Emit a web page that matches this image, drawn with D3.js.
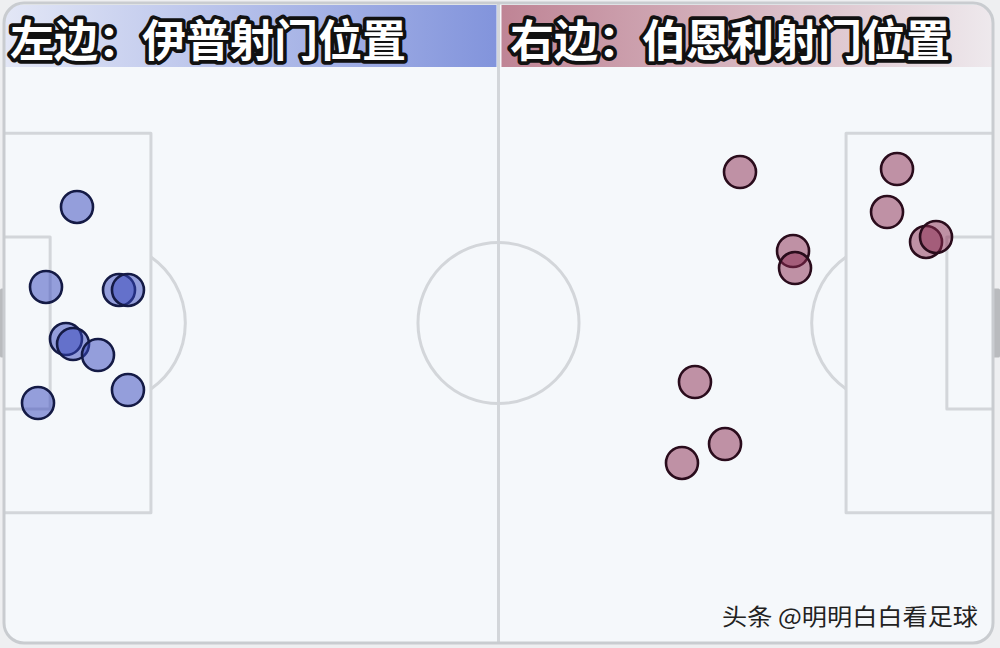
<!DOCTYPE html>
<html>
<head>
<meta charset="utf-8">
<script src="https://cdn.jsdelivr.net/npm/d3@7/dist/d3.min.js"></script>
<style>
  html, body { margin: 0; padding: 0; background: #eeeff1; }
  svg { display: block; }
</style>
</head>
<body>
<svg id="chart" width="1000" height="648"></svg>
<script>
// ---- Data (pitch coordinates in metres: x 0–105, y 0–68) ----
const titles = ["左边：伊普射门位置", "右边：伯恩利射门位置"];
const watermark = "头条 @明明白白看足球";

const ipswichX = [7.75, 4.46, 12.21, 13.16, 6.58, 7.33, 9.98, 13.16, 3.61];
const ipswichY = [21.67, 30.17, 30.49, 30.49, 35.70, 36.23, 37.40, 41.12, 42.50];

const burnleyX = [78.14, 94.81, 93.75, 83.77, 83.98, 97.89, 98.95, 73.36, 76.55, 71.98];
const burnleyY = [17.96, 17.64, 22.21, 26.35, 28.16, 25.39, 24.86, 40.27, 46.86, 48.87];

// pitch markings (metres)
const pitchLength = 105, pitchWidth = 68;
const boxDepth = 15.6, boxWidth = 40.3;
const sixDepth = 4.9, sixWidth = 18.3;
const circleR = 8.55, spotDist = 10.7, goalWidth = 7.32;

// ---- Scales ----
const svg = d3.select("#chart");
const x = d3.scaleLinear().domain([0, pitchLength]).range([4, 993]);
const y = d3.scaleLinear().domain([0, pitchWidth]).range([3, 643]);
const rPx = x(circleR) - x(0);
const cy = y(pitchWidth / 2);

const defs = svg.append("defs");
defs.append("clipPath").attr("id", "frameClip")
  .append("rect").attr("x", x(0)).attr("y", y(0))
  .attr("width", x(pitchLength) - x(0)).attr("height", y(pitchWidth) - y(0))
  .attr("rx", 20).attr("ry", 20);

const gL = defs.append("linearGradient").attr("id", "gradL");
gL.append("stop").attr("offset", "0%").attr("stop-color", "#e3e7f6");
gL.append("stop").attr("offset", "100%").attr("stop-color", "#8294dc");
const gR = defs.append("linearGradient").attr("id", "gradR");
gR.append("stop").attr("offset", "0%").attr("stop-color", "#bf8495");
gR.append("stop").attr("offset", "100%").attr("stop-color", "#eee9ed");

// goal markers
const lineCol = "#d3d6da";
svg.append("rect").attr("x", 0).attr("y", y(pitchWidth / 2 - goalWidth / 2))
  .attr("width", x(0) + 1).attr("height", y(goalWidth) - y(0)).attr("fill", "#b9bbbe").attr("rx", 1.5);
svg.append("rect").attr("x", x(pitchLength) - 1).attr("y", y(pitchWidth / 2 - goalWidth / 2))
  .attr("width", 1000 - x(pitchLength) + 1).attr("height", y(goalWidth) - y(0)).attr("fill", "#b9bbbe").attr("rx", 1.5);

// pitch background
svg.append("rect").attr("x", x(0)).attr("y", y(0))
  .attr("width", x(pitchLength) - x(0)).attr("height", y(pitchWidth) - y(0))
  .attr("rx", 20).attr("fill", "#f5f8fb");

const pitch = svg.append("g").attr("clip-path", "url(#frameClip)")
  .attr("fill", "none").attr("stroke", lineCol).attr("stroke-width", 3)
  .attr("stroke-linejoin", "round");

// halfway line & centre circle
pitch.append("line").attr("x1", x(pitchLength / 2)).attr("x2", x(pitchLength / 2))
  .attr("y1", y(0)).attr("y2", y(pitchWidth));
pitch.append("circle").attr("cx", x(pitchLength / 2)).attr("cy", cy).attr("r", rPx);

// boxes
function boxPath(x0, x1, w) {
  const yt = y(pitchWidth / 2 - w / 2), yb = y(pitchWidth / 2 + w / 2);
  return `M${x(x0)},${yt} L${x(x1)},${yt} L${x(x1)},${yb} L${x(x0)},${yb}`;
}
pitch.append("path").attr("d", boxPath(0, boxDepth, boxWidth));
pitch.append("path").attr("d", boxPath(0, sixDepth, sixWidth));
pitch.append("path").attr("d", boxPath(pitchLength, pitchLength - boxDepth, boxWidth));
pitch.append("path").attr("d", boxPath(pitchLength, pitchLength - sixDepth, sixWidth));

// penalty arcs
function arcPath(spotX, boxX, dir) {
  const sx = x(spotX), bx = x(boxX);
  const dx = Math.abs(bx - sx);
  const dy = Math.sqrt(rPx * rPx - dx * dx);
  return `M${bx},${cy - dy} A${rPx},${rPx} 0 0 ${dir} ${bx},${cy + dy}`;
}
pitch.append("path").attr("d", arcPath(spotDist, boxDepth, 1));
pitch.append("path").attr("d", arcPath(pitchLength - spotDist, pitchLength - boxDepth, 0));

// header bands
const hdr = svg.append("g").attr("clip-path", "url(#frameClip)");
hdr.append("rect").attr("x", x(0)).attr("y", 5).attr("width", x(pitchLength / 2) - x(0) - 2)
  .attr("height", 62).attr("fill", "url(#gradL)");
hdr.append("rect").attr("x", x(pitchLength / 2) + 3).attr("y", 5)
  .attr("width", x(pitchLength) - x(pitchLength / 2) - 3).attr("height", 62).attr("fill", "url(#gradR)");

// outer frame
svg.append("rect").attr("x", x(0)).attr("y", y(0))
  .attr("width", x(pitchLength) - x(0)).attr("height", y(pitchWidth) - y(0))
  .attr("rx", 20).attr("fill", "none").attr("stroke", "#c9ccd0").attr("stroke-width", 3);

// titles
const titleX = [10, 510];
svg.selectAll("text.title").data(titles).join("text")
  .attr("class", "title")
  .attr("x", (d, i) => titleX[i]).attr("y", 38)
  .attr("dominant-baseline", "central")
  .attr("font-family", "'Noto Sans CJK SC', sans-serif")
  .attr("font-weight", 700).attr("font-size", 44)
  .attr("fill", "#ffffff").attr("stroke", "#111111").attr("stroke-width", 7.5)
  .attr("stroke-linejoin", "round").attr("paint-order", "stroke")
  .text(d => d);

// shots
function drawShots(xs, ys, fill, stroke) {
  const pts = xs.map((v, i) => ({ x: v, y: ys[i] }));
  svg.append("g").selectAll("circle").data(pts).join("circle")
    .attr("cx", d => x(d.x)).attr("cy", d => y(d.y)).attr("r", 16)
    .attr("fill", fill).attr("fill-opacity", 0.5)
    .attr("stroke", stroke).attr("stroke-width", 2.6);
}
drawShots(ipswichX, ipswichY, "#3344bb", "#141a45");
drawShots(burnleyX, burnleyY, "#8a2a50", "#2a0c1c");

// watermark
svg.append("text").attr("x", 722).attr("y", 615)
  .attr("dominant-baseline", "central")
  .attr("font-family", "'Noto Sans CJK SC', sans-serif")
  .attr("font-size", 23).attr("fill", "#222222")
  .attr("textLength", 256).attr("lengthAdjust", "spacingAndGlyphs")
  .text(watermark);
</script>
</body>
</html>
